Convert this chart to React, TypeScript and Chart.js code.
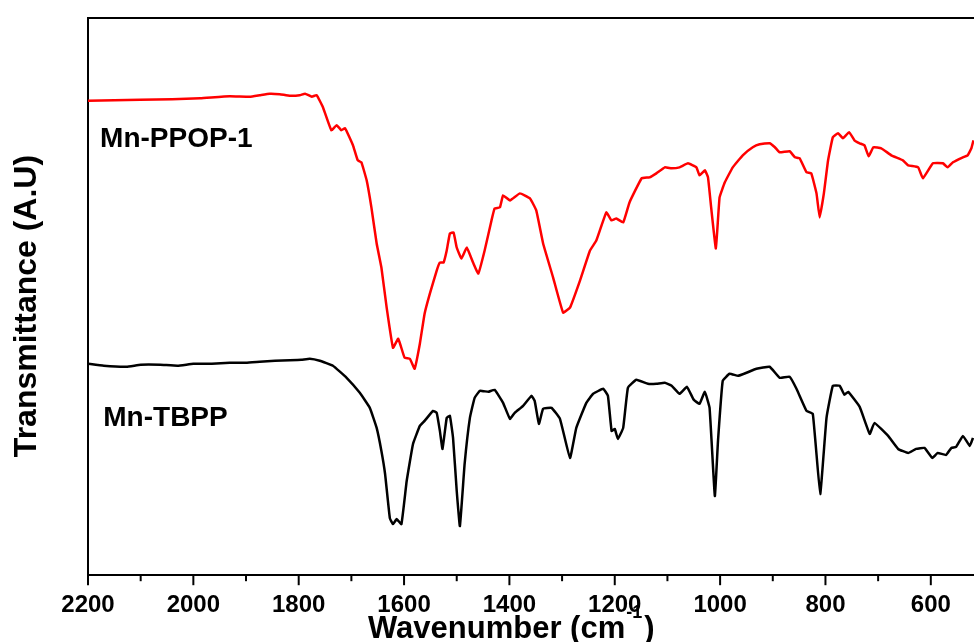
import React, { useEffect, useRef } from 'react';
import { Chart, registerables } from 'chart.js';

Chart.register(...registerables);

const FONT = "'Liberation Sans', Arial, Helvetica, sans-serif";

// Wavenumber range (cm^-1), reversed axis
const X_MAX = 2200;
const X_MIN = 518;

// Mn-PPOP-1 (red)
const redWn = [
  2200, 2150, 2101, 2040, 1987, 1931, 1893, 1874, 1855, 1836, 1817, 1798, 1788, 1775, 1766, 1754, 1738, 1728, 1719,
  1712, 1697, 1688, 1681, 1671, 1662, 1652, 1643, 1633, 1621, 1611, 1599, 1589, 1580, 1570, 1561, 1551, 1538, 1532,
  1525, 1519, 1513, 1506, 1500, 1491, 1481, 1469, 1459, 1447, 1434, 1428, 1418, 1412, 1399, 1380, 1361, 1349, 1336,
  1317, 1298, 1285, 1266, 1247, 1235, 1216, 1206, 1197, 1184, 1172, 1149, 1134, 1121, 1105, 1092, 1077, 1061, 1045,
  1039, 1029, 1023, 1017, 1008, 1001, 991, 976, 957, 938, 925, 906, 896, 887, 868, 858, 849, 836, 827, 817, 811, 803,
  795, 786, 776, 767, 755, 745, 735, 726, 718, 709, 694, 675, 653, 643, 624, 615, 596, 577, 568, 558, 539, 530, 523, 519,
];
const redT = [
  473.5, 474, 474.5, 475, 476, 478, 477.5, 479, 480.5, 480, 478.5, 479, 480.5, 477.5, 479, 467, 444, 449, 444,
  446, 429, 414, 412, 394, 367, 331, 307, 267, 227, 236, 217, 216, 206, 231, 261, 281, 304, 312,
  312, 324, 341, 342, 327, 316, 327, 312, 301, 324, 354, 366, 367, 379, 374, 381, 376, 364, 331,
  297, 262, 267, 294, 324, 334, 362, 354, 356, 352, 372, 396, 397, 401, 407, 406, 407, 411, 407,
  399, 404, 397, 367, 326, 377, 392, 407, 419, 427, 430, 431, 427, 422, 423, 417, 416, 402, 401, 381, 357, 381,
  414, 437, 441, 436, 442, 434, 431, 429, 418, 427, 426, 419, 414, 409, 407, 396, 411, 411, 407, 412, 417, 419, 426, 434,
];

// Mn-TBPP (black)
const blackWn = [
  2200, 2170, 2127, 2100, 2063, 2030, 2000, 1965, 1931, 1900, 1874, 1845, 1817, 1795, 1779, 1760, 1735, 1709, 1684,
  1665, 1652, 1643, 1636, 1627, 1621, 1614, 1605, 1595, 1583, 1570, 1561, 1545, 1538, 1532, 1527, 1519, 1513, 1507,
  1500, 1494, 1485, 1475, 1466, 1456, 1440, 1428, 1412, 1399, 1390, 1374, 1358, 1352, 1344, 1336, 1320, 1304, 1285,
  1273, 1254, 1241, 1222, 1213, 1206, 1200, 1194, 1184, 1175, 1159, 1137, 1121, 1105, 1092, 1077, 1063, 1050, 1039,
  1029, 1020, 1010, 1004, 995, 982, 966, 950, 931, 906, 887, 868, 855, 836, 824, 810, 798, 786, 773, 764, 757, 735,
  716, 707, 681, 662, 643, 628, 612, 597, 587, 571, 561, 552, 539, 526, 520,
];
const blackT = [
  211, 209, 208, 210, 210, 209, 211, 211, 212, 212, 213, 214, 214.5, 215, 216, 214, 209, 197, 182,
  167, 147, 124, 101, 57, 51, 56, 51, 94, 131, 149, 154, 164, 162, 144, 126, 157, 159, 137,
  84, 49, 111, 157, 177, 184, 183, 185, 172, 156, 162, 169, 179, 174, 151, 166, 167, 156, 117,
  147, 172, 181, 186, 179, 144, 146, 136, 147, 187, 195, 191, 191, 192, 189, 181, 188, 175, 171,
  183, 167, 79, 134, 194, 201, 199, 202, 206, 208, 197, 198, 186, 164, 161, 81, 157, 189, 189, 180, 183, 168,
  141, 152, 139, 126, 122, 126, 127, 117, 122, 120, 127, 128, 139, 129, 137,
];

const seriesLabels = [
  { text: 'Mn-PPOP-1', x: 2177, y: 427 },
  { text: 'Mn-TBPP', x: 2171, y: 149 },
];

const toPoints = (xs: number[], ys: number[]) => xs.map((x, i) => ({ x, y: ys[i] }));

const decorPlugin = {
  id: 'decor',
  afterDraw(chart: any) {
    const { ctx, chartArea, scales } = chart;
    const xs = scales.x;
    const ys = scales.y;
    ctx.save();
    // top frame line
    ctx.strokeStyle = '#000';
    ctx.lineWidth = 2;
    ctx.beginPath();
    ctx.moveTo(chartArea.left - 1, chartArea.top);
    ctx.lineTo(chartArea.right + 2, chartArea.top);
    ctx.stroke();
    // tick marks (major every 200, minor every 100)
    ctx.lineWidth = 2;
    for (const t of xs.ticks) {
      const v = t.value;
      const px = xs.getPixelForValue(v);
      const len = v % 200 === 0 ? 10 : 6;
      ctx.beginPath();
      ctx.moveTo(px, chartArea.bottom);
      ctx.lineTo(px, chartArea.bottom + len);
      ctx.stroke();
    }
    // series labels
    ctx.fillStyle = '#000';
    ctx.font = `bold 28px ${FONT}`;
    ctx.textBaseline = 'alphabetic';
    ctx.textAlign = 'left';
    for (const l of seriesLabels) {
      ctx.fillText(l.text, xs.getPixelForValue(l.x), ys.getPixelForValue(l.y));
    }
    // y title
    ctx.save();
    ctx.translate(36, 306);
    ctx.rotate(-Math.PI / 2);
    ctx.font = `bold 32px ${FONT}`;
    ctx.textAlign = 'center';
    ctx.textBaseline = 'alphabetic';
    ctx.fillText('Transmittance (A.U)', 0, 0);
    ctx.restore();
    // x title
    ctx.font = `bold 31px ${FONT}`;
    ctx.textAlign = 'left';
    const main = 'Wavenumber (cm';
    const x0 = 368;
    const base = 638;
    ctx.fillText(main, x0, base);
    const w = ctx.measureText(main).width;
    ctx.font = `bold 18px ${FONT}`;
    ctx.fillText('-1', x0 + w + 1, base - 20);
    const w2 = ctx.measureText('-1').width;
    ctx.font = `bold 31px ${FONT}`;
    ctx.fillText(')', x0 + w + w2 + 3, base);
    ctx.restore();
  },
};

export default function App() {
  const ref = useRef<HTMLCanvasElement>(null);
  useEffect(() => {
    if (!ref.current) return;
    const chart = new Chart(ref.current, {
      type: 'line',
      data: {
        datasets: [
          {
            label: 'Mn-PPOP-1',
            data: toPoints(redWn, redT),
            borderColor: '#ff0000',
            borderWidth: 2.5,
            pointRadius: 0,
            tension: 0.1,
            fill: false,
          },
          {
            label: 'Mn-TBPP',
            data: toPoints(blackWn, blackT),
            borderColor: '#000000',
            borderWidth: 2.5,
            pointRadius: 0,
            tension: 0.1,
            fill: false,
          },
        ],
      },
      options: {
        responsive: false,
        animation: false,
        events: [],
        layout: { padding: { left: 80, top: 18, right: 0, bottom: 16 } },
        plugins: { legend: { display: false }, tooltip: { enabled: false } },
        scales: {
          x: {
            type: 'linear',
            reverse: true,
            min: X_MIN,
            max: X_MAX,
            border: { display: true, color: '#000', width: 2 },
            grid: { display: true, drawOnChartArea: false, color: 'rgba(0,0,0,0)', tickLength: 10 },
            ticks: {
              stepSize: 100,
              includeBounds: false,
              autoSkip: false,
              maxRotation: 0,
              padding: 6,
              color: '#000',
              font: { family: FONT, size: 24, weight: 'bold' },
              callback: (v: any) => (Number(v) % 200 === 0 ? String(v) : ''),
            },
          },
          y: {
            type: 'linear',
            min: 0,
            max: 556,
            border: { display: true, color: '#000', width: 2 },
            grid: { display: false },
            ticks: { display: false },
          },
        },
      },
      plugins: [decorPlugin],
    });
    return () => chart.destroy();
  }, []);
  return (
    <div style={{ position: 'fixed', left: 0, top: 0, width: 974, height: 642, background: '#fff' }}>
      <canvas ref={ref} width={974} height={642} style={{ width: 974, height: 642, display: 'block' }} />
    </div>
  );
}
